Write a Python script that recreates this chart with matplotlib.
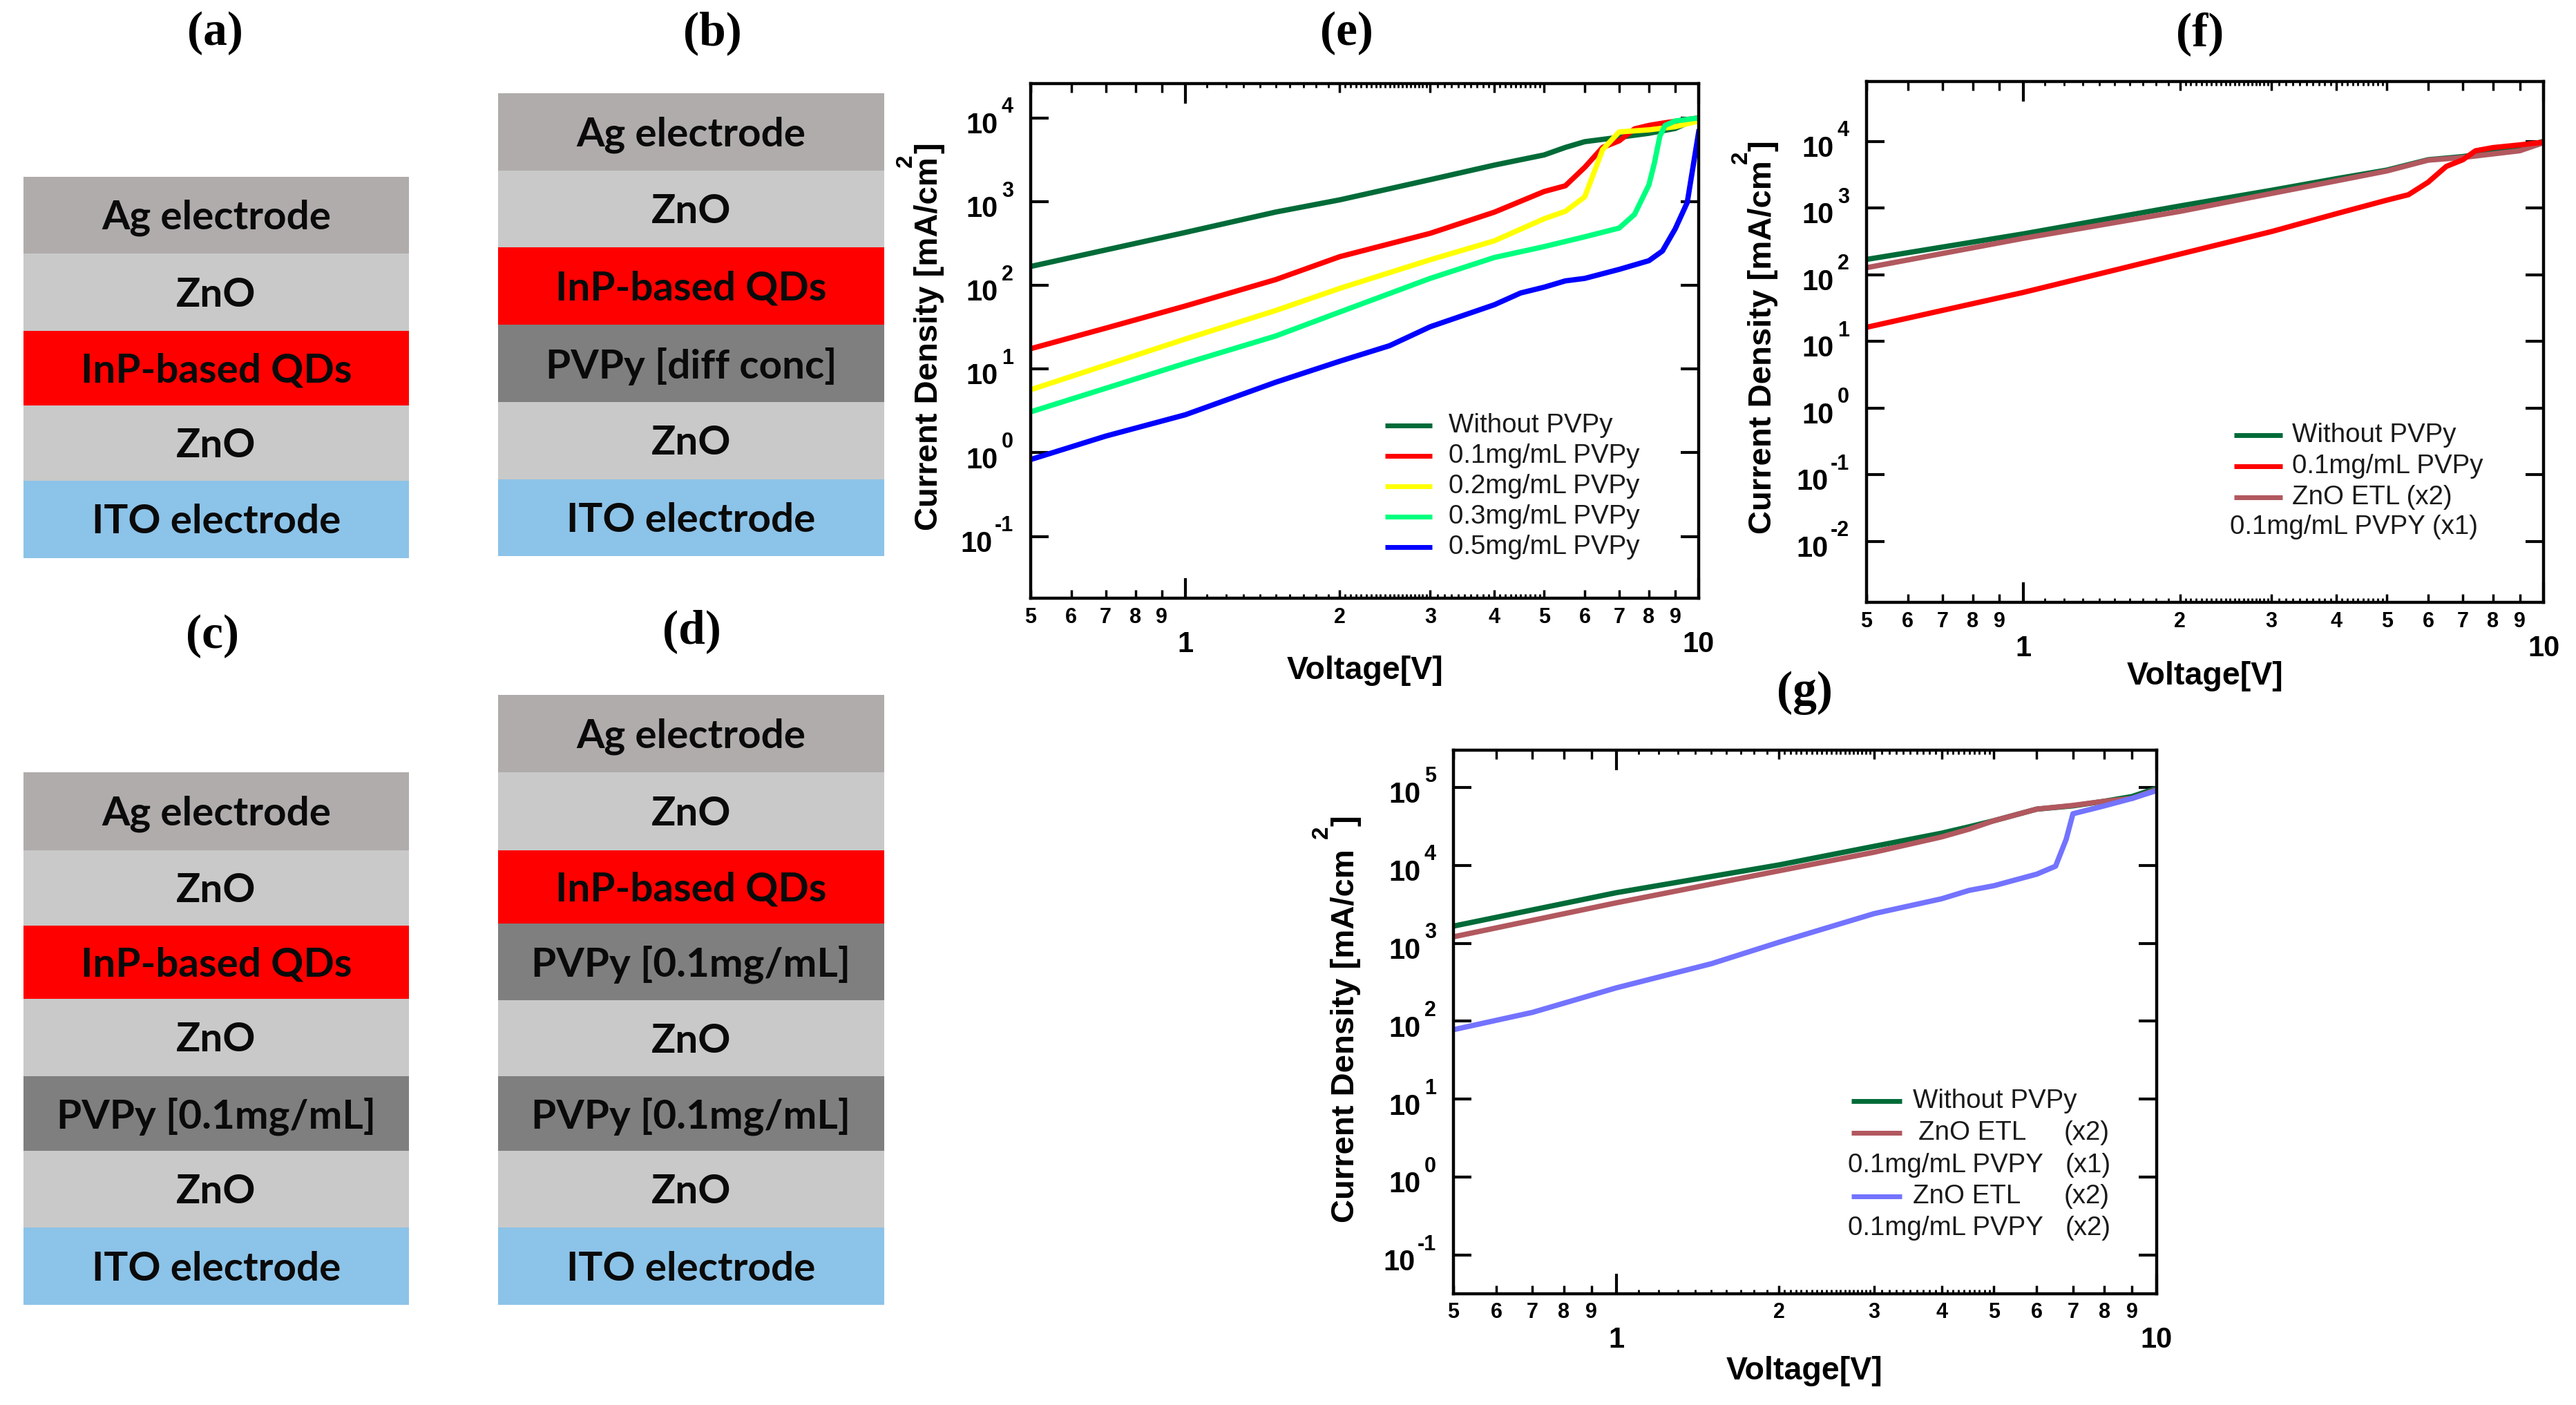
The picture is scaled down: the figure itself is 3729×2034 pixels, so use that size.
import matplotlib
matplotlib.use("Agg")
import matplotlib.ticker
import matplotlib.pyplot as plt

W, H = 3730, 2034

plt.rcParams['font.family'] = ['Liberation Sans', 'DejaVu Sans']

# ---- data: device stacks (top to bottom)
stack_a = ["Ag electrode", "ZnO", "InP-based QDs", "ZnO", "ITO electrode"]
stack_b = ["Ag electrode", "ZnO", "InP-based QDs", "PVPy [diff conc]", "ZnO", "ITO electrode"]
stack_c = ["Ag electrode", "ZnO", "InP-based QDs", "ZnO", "PVPy [0.1mg/mL]", "ZnO", "ITO electrode"]
stack_d = ["Ag electrode", "ZnO", "InP-based QDs", "PVPy [0.1mg/mL]", "ZnO", "PVPy [0.1mg/mL]", "ZnO", "ITO electrode"]

# ---- data: panel (e), voltage [V] and current density [mA/cm2]
e_green_v = [0.5, 1, 1.5, 2, 3, 4, 5, 5.5, 6, 7, 8, 9, 10]
e_green_j = [168, 428, 750, 1050, 1830, 2730, 3610, 4440, 5200, 5870, 6550, 7480, 10000]
e_red_v = [0.5, 0.7, 1, 1.5, 2, 3, 4, 5, 5.5, 6, 6.5, 7, 7.5, 8, 8.5, 10]
e_red_j = [17.5, 30.8, 56.6, 117, 220, 418, 748, 1320, 1546, 2570, 4440, 5320, 7390, 8130, 8650, 10000]
e_yellow_v = [0.5, 1, 1.5, 2, 3, 4, 5, 5.5, 6, 6.5, 7, 8, 9, 10]
e_yellow_j = [5.66, 22.8, 50, 92, 202, 340, 624, 766, 1140, 4180, 6800, 7200, 7850, 9190]
e_spring_v = [0.5, 1, 1.5, 2, 3, 4, 5, 6, 7, 7.5, 8, 8.2, 8.4, 8.6, 9, 10]
e_spring_j = [3.08, 11.7, 24.8, 48, 121, 215, 290, 380, 483, 703, 1585, 2900, 6010, 8130, 9190, 10000]
e_blue_v = [0.5, 0.7, 1, 1.5, 2, 2.5, 3, 4, 4.5, 5, 5.5, 6, 7, 8, 8.5, 9, 9.5, 10]
e_blue_j = [0.83, 1.58, 2.84, 6.95, 12.4, 19, 32, 58.6, 81, 95, 113, 121, 155, 197, 257, 472, 977, 6800]

# ---- data: panel (f)
f_green_v = [0.5, 1, 2, 3, 4, 5, 6, 7, 8, 9, 10]
f_green_j = [169, 408, 1070, 1840, 2750, 3700, 5290, 5900, 6880, 7800, 10000]
f_red_v = [0.5, 1, 1.5, 2, 3, 4, 5, 5.5, 6, 6.5, 7, 7.4, 8, 9, 10]
f_red_j = [16.2, 54, 117, 203, 442, 821, 1310, 1580, 2430, 4190, 5290, 7210, 8050, 8830, 9700]
f_brown_v = [0.5, 1, 2, 3, 4, 5, 6, 7, 8, 9, 10]
f_brown_j = [127, 350, 887, 1650, 2550, 3590, 5210, 5720, 6470, 7210, 9540]

# ---- data: panel (g)
g_green_v = [0.5, 1, 2, 3, 4, 4.5, 5, 6, 7, 8, 9, 10]
g_green_j = [1660, 4450, 10100, 17500, 25800, 31200, 37300, 52500, 57800, 66200, 76100, 97300]
g_brown_v = [0.5, 1, 2, 3, 4, 4.5, 5, 6, 7, 8, 9, 10]
g_brown_j = [1210, 3300, 8490, 14700, 23100, 29100, 37300, 52500, 58600, 66200, 71900, 93300]
g_blue_v = [0.5, 0.7, 1, 1.5, 2, 3, 4, 4.5, 5, 6, 6.5, 6.8, 7, 8, 9, 10]
g_blue_j = [78, 130, 268, 547, 1030, 2400, 3720, 4770, 5470, 7700, 9730, 21500, 45800, 57800, 71900, 90800]

# ---- tick labels
x_minor_labelled = [0.5, 0.6, 0.7, 0.8, 0.9, 2, 3, 4, 5, 6, 7, 8, 9]
x_minor_text = ['5', '6', '7', '8', '9', '2', '3', '4', '5', '6', '7', '8', '9']
x_tiny = [1.1, 1.2, 1.3, 1.4, 1.5, 1.6, 1.7, 1.8, 1.9,
          2.05, 2.1, 2.15, 2.2, 2.25, 2.3, 2.35, 2.4, 2.45, 2.5, 2.55, 2.6, 2.65, 2.7, 2.75, 2.8, 2.85, 2.9, 2.95,
          3.1, 3.2, 3.3, 3.4, 3.5, 3.6, 3.7, 3.8, 3.9,
          4.1, 4.2, 4.3, 4.4, 4.5, 4.6, 4.7, 4.8, 4.9]

# ---- styles
DARKGREEN = '#006b38'
RED = '#ff0000'
YELLOW = '#ffff00'
SPRING = '#00ff7f'
BLUE = '#0000ff'
BROWN = '#b2585f'
LAVENDER = '#7373ff'
LAYER_COLORS = {"Ag": '#b0acab', "Zn": '#c9c9c9', "In": '#ff0000', "PV": '#7f7f7f', "IT": '#8cc3e8'}

fig = plt.figure(figsize=(W / 100, H / 100), dpi=100, facecolor='white')

# background axes in pixel coordinates, for stacks and free text
bg = fig.add_axes([0, 0, 1, 1])
bg.set_xlim(0, W)
bg.set_ylim(H, 0)
bg.axis('off')


def draw_stack(layers, left, right, edges):
    for i, name in enumerate(layers):
        top, bottom = edges[i], edges[i + 1]
        bg.barh((top + bottom) / 2, right - left, height=bottom - top, left=left,
                color=LAYER_COLORS[name[:2]], linewidth=0)
        bg.text((left + right) / 2, (top + bottom) / 2 + 4, name, ha='center', va='center',
                family='Lato', fontsize=42, fontweight='bold', color='#0a0a0a')


draw_stack(stack_a, 34, 592, [256, 367, 479, 587, 696, 808])
draw_stack(stack_b, 721, 1280, [135, 247, 358, 470, 582, 694, 805])
draw_stack(stack_c, 34, 592, [1118, 1231, 1340, 1446, 1558, 1666, 1777, 1889])
draw_stack(stack_d, 721, 1280, [1006, 1118, 1231, 1337, 1448, 1558, 1666, 1777, 1889])

for letter, px, py in [('(a)', 311, 48), ('(b)', 1031, 48), ('(c)', 308, 921), ('(d)', 1001, 914),
                       ('(e)', 1949, 48), ('(f)', 3185, 49), ('(g)', 2612, 1003)]:
    bg.text(px, py, letter, ha='center', va='center', family='Liberation Serif',
            fontsize=50, fontweight='bold', color='black')


def panel(box, ylim, decades, series, legend, xlabel_pos, ylabel_pos):
    left, right, top, bottom = box
    ax = fig.add_axes([left / W, 1 - bottom / H, (right - left) / W, (bottom - top) / H])
    ax.patch.set_alpha(0)
    for v, j, color in series:
        ax.plot(v, j, color=color, linewidth=5.5, solid_joinstyle='round')
    ax.set_xscale('log')
    ax.set_yscale('log')
    ax.set_xlim(0.5, 10)
    ax.set_ylim(*ylim)

    ax.set_xticks([1, 10], ['1', '10'])
    ax.set_xticks(x_minor_labelled + x_tiny, x_minor_text + [''] * len(x_tiny), minor=True)
    ax.set_yticks([10.0 ** d for d in decades], [''] * len(decades))
    ax.yaxis.set_minor_locator(matplotlib.ticker.NullLocator())

    ax.tick_params(axis='x', which='major', direction='in', top=True, length=21, width=3,
                   labelsize=30, pad=34)
    ax.tick_params(axis='x', which='minor', direction='in', top=True, length=9, width=2.5,
                   labelsize=22, pad=9)
    ax.tick_params(axis='y', which='major', direction='in', right=True, length=19, width=3)
    for lab in ax.get_xticklabels(which='both'):
        lab.set_fontweight('bold')
    # the unlabelled ticks are shorter
    for tick, val in zip(ax.xaxis.get_minor_ticks(), ax.xaxis.get_minorticklocs()):
        if val in x_tiny:
            tick.tick1line.set_markersize(4)
            tick.tick2line.set_markersize(4)
            tick.tick1line.set_markeredgewidth(2)
            tick.tick2line.set_markeredgewidth(2)
    for s in ax.spines.values():
        s.set_linewidth(3.2)

    # decade labels: base and a high, large exponent as in the reference
    ytrans = ax.get_yaxis_transform()
    for d in decades:
        base_dx = -34 if d >= 0 else -40
        ax.annotate('10', xy=(0, 10.0 ** d), xycoords=ytrans, xytext=(base_dx, -8),
                    textcoords='offset points', ha='right', va='center',
                    fontsize=30, fontweight='bold')
        ax.annotate(str(d), xy=(0, 10.0 ** d), xycoords=ytrans, xytext=(-18, 11),
                    textcoords='offset points', ha='right', va='center',
                    fontsize=22, fontweight='bold')

    # axis titles
    bg.text(xlabel_pos[0], xlabel_pos[1], 'Voltage[V]', ha='center', va='center',
            fontsize=33.5, fontweight='bold')
    lx, lbot, sup_x, sup_y, br_y = ylabel_pos
    bg.text(lx, lbot, 'Current Density [mA/cm', rotation=90, ha='center', va='bottom',
            fontsize=34, fontweight='bold')
    bg.text(sup_x, sup_y, '2', rotation=90, ha='center', va='center', fontsize=24, fontweight='bold')
    bg.text(lx, br_y, ']', rotation=90, ha='center', va='center', fontsize=34, fontweight='bold')

    # legend rows: key colour (or None), key span, text pieces
    key_x0, key_x1, rows = legend
    for color, py, pieces in rows:
        if color is not None:
            bg.plot([key_x0, key_x1], [py, py], color=color, linewidth=5, solid_capstyle='butt', zorder=5)
        for txt, px in pieces:
            bg.text(px, py, txt, ha='left', va='center', fontsize=27.7, color='#1a1a1a', zorder=5)
    return ax


panel((1492, 2459, 121, 866), (0.0183, 25700), [4, 3, 2, 1, 0, -1],
      [(e_green_v, e_green_j, DARKGREEN), (e_red_v, e_red_j, RED), (e_yellow_v, e_yellow_j, YELLOW),
       (e_spring_v, e_spring_j, SPRING), (e_blue_v, e_blue_j, BLUE)],
      (2005, 2073, [(DARKGREEN, 616, [('Without PVPy', 2097)]),
                    (RED, 660, [('0.1mg/mL PVPy', 2097)]),
                    (YELLOW, 704, [('0.2mg/mL PVPy', 2097)]),
                    (SPRING, 748, [('0.3mg/mL PVPy', 2097)]),
                    (BLUE, 792, [('0.5mg/mL PVPy', 2097)])]),
      (1976, 971), (1345, 768, 1311, 233, 214))

panel((2702, 3682, 118, 872), (10 ** -2.917, 10 ** 4.897), [4, 3, 2, 1, 0, -1, -2],
      [(f_green_v, f_green_j, DARKGREEN), (f_brown_v, f_brown_j, BROWN), (f_red_v, f_red_j, RED)],
      (3234, 3304, [(DARKGREEN, 630, [('Without PVPy', 3318)]),
                    (RED, 675, [('0.1mg/mL PVPy', 3318)]),
                    (BROWN, 720, [('ZnO ETL (x2)', 3318)]),
                    (None, 763, [('0.1mg/mL PVPY (x1)', 3228)])]),
      (3192, 979), (2552, 773, 2520, 228, 211))

panel((2104, 3122, 1086, 1873), (10 ** -1.494, 10 ** 5.476), [5, 4, 3, 2, 1, 0, -1],
      [(g_green_v, g_green_j, DARKGREEN), (g_brown_v, g_brown_j, BROWN), (g_blue_v, g_blue_j, LAVENDER)],
      (2680, 2753, [(DARKGREEN, 1594, [('Without PVPy', 2769)]),
                    (BROWN, 1640, [('ZnO ETL', 2777), ('(x2)', 2988)]),
                    (None, 1687, [('0.1mg/mL PVPY', 2675), ('(x1)', 2990)]),
                    (LAVENDER, 1732, [('ZnO ETL', 2769), ('(x2)', 2988)]),
                    (None, 1778, [('0.1mg/mL PVPY', 2675), ('(x2)', 2990)])]),
      (2612, 1985), (1948, 1770, 1913, 1205, 1188))

bg.set_xlim(0, W)
bg.set_ylim(H, 0)
fig.savefig('out.png', dpi=100, facecolor='white')
